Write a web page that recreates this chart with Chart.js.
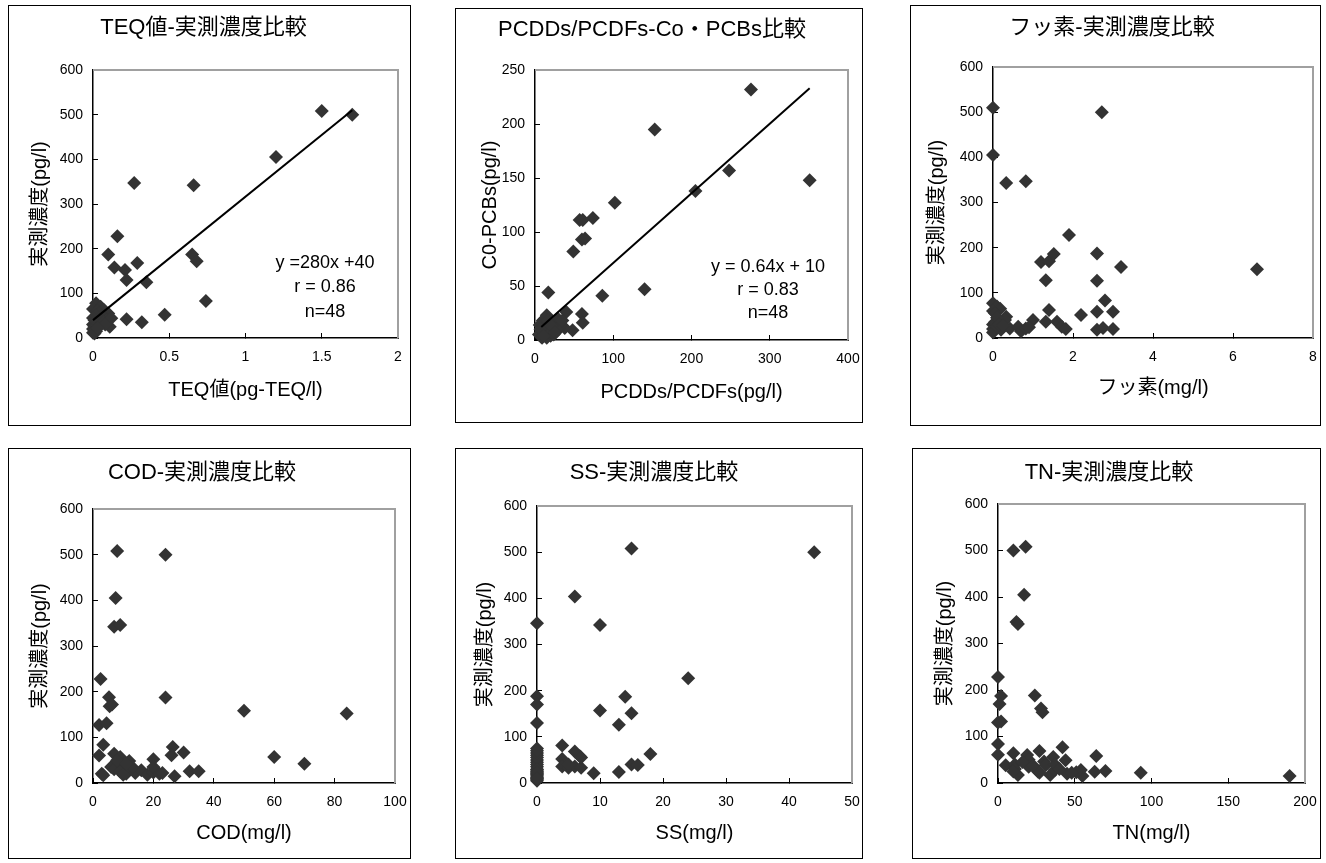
<!DOCTYPE html>
<html>
<head>
<meta charset="utf-8">
<script src="https://cdn.jsdelivr.net/npm/chart.js@4.4.0/dist/chart.umd.min.js"></script>
<style>
  body { margin: 0; background: #fff; width: 1326px; height: 863px; position: relative; overflow: hidden; }
  .panel { position: absolute; border: 1px solid #000; box-sizing: border-box; background: #fff; }
  .panel canvas { position: absolute; left: 0; top: 0; }
</style>
</head>
<body>
<script>
// TEQ vs measured concentration
const teqX = [1.5, 1.7, 1.2, 0.27, 0.66, 0.16, 0.1, 0.65, 0.68, 0.29, 0.14, 0.21, 0.22, 0.35, 0.74, 0.47, 0.22, 0.32, 0.11,
  0.02, 0, 0.05, 0.03, 0.07, 0.1, 0.08, 0.06, 0.04, 0.01, 0.02, 0, 0.01, 0, 0.02, 0, 0.01, 0.03, 0.05, 0.06, 0.09, 0.04, 0.02, 0, 0.07, 0.12, 0.08, 0.01, 0.03];
const teqY = [508, 500, 405, 347, 342, 228, 187, 187, 172, 168, 158, 152, 130, 125, 83, 52, 42, 35, 25,
  78, 65, 70, 60, 63, 55, 45, 50, 48, 40, 35, 30, 25, 20, 15, 12, 18, 28, 38, 42, 40, 55, 50, 45, 35, 44, 30, 10, 22];
const teqTrendX = [0, 1.7];
const teqTrendY = [40, 510];

// PCDDs/PCDFs vs Co-PCBs
const pcddX = [276, 153, 248, 205, 351, 102, 74, 57, 61, 60, 64, 49, 86, 140, 17, 60, 61, 48, 40, 15, 29, 38,
  5, 8, 10, 12, 14, 16, 18, 20, 22, 25, 28, 10, 6, 9, 13, 15, 19, 24, 30, 33, 7, 11, 17, 21, 26, 35];
const pcbY = [232, 195, 157, 138, 148, 127, 113, 111, 111, 93, 94, 82, 41, 47, 44, 24, 16, 9, 26, 23, 20, 11,
  5, 3, 8, 12, 6, 10, 15, 4, 8, 12, 16, 18, 14, 2, 20, 2, 7, 5, 10, 14, 10, 4, 18, 13, 7, 18];
const pcbTrendX = [8, 351];
const pcbTrendY = [12, 233];

// fluorine
const fluorX = [0, 0, 0.33, 0.82, 2.72, 1.9, 1.2, 1.4, 1.52, 1.32, 2.6, 3.2, 6.6, 2.6, 2.8, 2.6, 3.0, 2.2, 1.4, 1.32, 1.0, 1.6, 1.72, 1.82, 2.6, 2.75, 3.0,
  0, 0.1, 0.18, 0, 0.05, 0.33, 0.3, 0.2, 0.42, 0.63, 0.7, 0.82, 0, 0, 0, 0.05, 0.1, 0.1, 0.15, 0.9, 0.25];
const fluorY = [510, 405, 343, 347, 500, 228, 168, 170, 186, 128, 187, 157, 152, 127, 83, 58, 58, 51, 62, 36, 40, 36, 25, 20, 18, 22, 20,
  77, 70, 65, 60, 55, 47, 40, 18, 21, 25, 15, 21, 30, 20, 12, 35, 25, 45, 30, 24, 28];

// COD
const codX = [8, 24, 7.5, 7, 9, 2.5, 5.3, 5.5, 6.3, 24, 50, 84, 2, 4.5, 3.4, 2, 60, 70, 26.4, 26, 30, 20, 32, 35, 27, 2.9, 3.4, 12,
  7, 9, 8, 10, 6, 7, 9, 11, 12, 14, 16, 18, 20, 20, 22, 23, 13, 10, 8, 11];
const codY = [508, 500, 405, 342, 346, 228, 188, 168, 172, 187, 158, 152, 127, 131, 84, 60, 57, 42, 79, 61, 67, 52, 26, 26, 15, 20, 17, 48,
  64, 57, 45, 40, 35, 30, 25, 20, 30, 22, 28, 18, 23, 35, 20, 22, 35, 18, 50, 42];

// SS
const ssX = [15, 44, 6, 10, 0, 24, 0, 0, 14, 10, 15, 13, 0, 4, 6, 6.8, 4, 18, 15, 16, 9, 13, 4, 5, 6, 7,
  0, 0, 0, 0, 0, 0, 0, 0, 0, 0, 0, 0, 0, 0, 0, 0, 0, 0, 0, 5, 7, 0];
const ssY = [508, 500, 404, 342, 346, 227, 188, 170, 187, 157, 151, 126, 130, 81, 68, 58, 52, 63, 40, 39, 21, 24, 36, 33, 36, 33,
  75, 60, 50, 45, 35, 25, 20, 15, 12, 5, 8, 28, 40, 55, 65, 18, 30, 22, 10, 40, 55, 70];

// TN
const tnX = [18, 10, 17, 12, 13, 0, 2, 1, 24, 28, 29, 0, 2, 0, 0, 10, 5, 19, 27, 42, 64, 93, 190, 70, 63, 55, 54, 44, 36, 30, 20,
  11, 11, 13, 20, 26, 34, 37, 45, 51, 23, 31, 37, 27, 48, 10, 40, 16];
const tnY = [508, 500, 405, 346, 342, 228, 187, 170, 188, 160, 152, 130, 132, 84, 61, 64, 38, 60, 69, 77, 58, 22, 15, 26, 24, 15, 28, 49, 56, 46, 50,
  40, 30, 17, 35, 25, 17, 28, 20, 23, 37, 38, 40, 22, 22, 25, 30, 45];

// tick labels
const yTicks600 = [0, 100, 200, 300, 400, 500, 600];
const yTicks250 = [0, 50, 100, 150, 200, 250];
const xTicksTeq = [0, 0.5, 1, 1.5, 2];
const xTicksPcdd = [0, 100, 200, 300, 400];
const xTicksFluor = [0, 2, 4, 6, 8];
const xTicksCod = [0, 20, 40, 60, 80, 100];
const xTicksSs = [0, 10, 20, 30, 40, 50];
const xTicksTn = [0, 50, 100, 150, 200];

const FONT = "'Liberation Sans', 'Noto Sans CJK JP', sans-serif";
Chart.defaults.font.family = FONT;
Chart.defaults.color = '#000';

function toPoints(xs, ys) {
  return xs.map((x, i) => ({ x: x, y: ys[i] }));
}

// grey frame on top / right of the plot area, like Excel
const framePlugin = {
  id: 'frame',
  beforeDatasetsDraw(chart) {
    const { ctx, chartArea: a } = chart;
    ctx.save();
    ctx.strokeStyle = '#a0a0a0';
    ctx.lineWidth = 2;
    ctx.beginPath();
    ctx.moveTo(a.left, a.top);
    ctx.lineTo(a.right, a.top);
    ctx.lineTo(a.right, a.bottom);
    ctx.stroke();
    ctx.restore();
  }
};

function notePlugin(lines, x, ys) {
  return {
    id: 'note',
    afterDatasetsDraw(chart) {
      const ctx = chart.ctx;
      ctx.save();
      ctx.font = '18px ' + FONT;
      ctx.fillStyle = '#000';
      ctx.textAlign = 'center';
      ctx.textBaseline = 'middle';
      lines.forEach((t, i) => ctx.fillText(t, x, ys[i]));
      ctx.restore();
    }
  };
}

function makePanel(p) {
  const [bl, bt, br, bb] = p.box;
  const div = document.createElement('div');
  div.className = 'panel';
  div.style.left = bl + 'px';
  div.style.top = bt + 'px';
  div.style.width = (br - bl + 1) + 'px';
  div.style.height = (bb - bt + 1) + 'px';
  const canvas = document.createElement('canvas');
  const W = br - bl - 1, H = bb - bt - 1;
  canvas.width = W;
  canvas.height = H;
  div.appendChild(canvas);
  document.body.appendChild(div);

  const cx0 = bl + 1, cy0 = bt + 1;
  const [pl, pt, pr, pb] = p.plot;
  const yw = pl - cx0, padR = cx0 + W - pr, th = pt - cy0, xh = cy0 + H - pb;
  const tSize = 22, tLine = tSize * 1.2;
  const tTop = p.titleY - cy0 - tLine / 2;
  const aSize = 20, aHalf = aSize * 1.2 / 2;

  const datasets = [];
  if (p.trend) {
    datasets.push({
      type: 'line',
      data: toPoints(p.trend[0], p.trend[1]),
      borderColor: '#000',
      borderWidth: 2,
      pointRadius: 0,
      fill: false,
      clip: false
    });
  }
  datasets.push({
    data: toPoints(p.xs, p.ys),
    pointStyle: 'rectRot',
    pointRadius: 7,
    pointBackgroundColor: '#333',
    pointBorderWidth: 0,
    clip: false
  });

  const plugins = [framePlugin];
  if (p.note) {
    plugins.push(notePlugin(p.note.lines, p.note.x - cx0, p.note.ys.map(v => v - cy0)));
  }

  new Chart(canvas.getContext('2d'), {
    type: 'scatter',
    data: { datasets: datasets },
    plugins: plugins,
    options: {
      responsive: false,
      animation: false,
      events: [],
      layout: { padding: { top: 0, left: 0, right: padR, bottom: 0 } },
      plugins: {
        legend: { display: false },
        tooltip: { enabled: false },
        title: {
          display: true,
          text: p.title,
          font: { size: tSize, weight: 'normal', lineHeight: 1.2 },
          color: '#000',
          padding: { top: tTop, bottom: th - tTop - tLine }
        }
      },
      scales: {
        x: {
          type: 'linear',
          min: p.xTicks[0],
          max: p.xTicks[p.xTicks.length - 1],
          afterBuildTicks: s => { s.ticks = p.xTicks.map(v => ({ value: v })); },
          afterFit: s => { s.height = xh; s.paddingLeft = 0; s.paddingRight = 0; },
          ticks: { padding: 16, font: { size: 14 }, autoSkip: false, maxRotation: 0, callback: v => String(v) },
          grid: { display: true, drawOnChartArea: false, drawTicks: true, tickLength: -5, color: '#000', lineWidth: 1 },
          border: { display: true, color: '#000', width: 1.5 },
          title: {
            display: true,
            text: p.xTitle,
            font: { size: aSize, lineHeight: 1.2 },
            padding: { top: 0, bottom: (cy0 + H - p.xTitleY) - aHalf }
          }
        },
        y: {
          type: 'linear',
          min: p.yTicks[0],
          max: p.yTicks[p.yTicks.length - 1],
          afterBuildTicks: s => { s.ticks = p.yTicks.map(v => ({ value: v })); },
          afterFit: s => { s.width = yw; s.paddingTop = 0; s.paddingBottom = 0; },
          ticks: { padding: 15, font: { size: 14 }, autoSkip: false, callback: v => String(v) },
          grid: { display: true, drawOnChartArea: false, drawTicks: true, tickLength: -5, color: '#000', lineWidth: 1 },
          border: { display: true, color: '#000', width: 1.5 },
          title: {
            display: true,
            text: p.yTitle,
            font: { size: aSize, lineHeight: 1.2 },
            padding: { top: (p.yTitleX - cx0) - aHalf, bottom: 0 }
          }
        }
      }
    }
  });
}

const Y_TITLE = '実測濃度(pg/l)';

makePanel({
  box: [8, 5, 410, 425], plot: [93, 70, 398, 338], titleY: 28, xTitleY: 390, yTitleX: 40,
  title: 'TEQ値-実測濃度比較', xTitle: 'TEQ値(pg-TEQ/l)', yTitle: Y_TITLE,
  xs: teqX, ys: teqY, xTicks: xTicksTeq, yTicks: yTicks600,
  trend: [teqTrendX, teqTrendY],
  note: { lines: ['y =280x +40', 'r = 0.86', 'n=48'], x: 325, ys: [263, 287, 312] }
});

makePanel({
  box: [455, 8, 862, 422], plot: [535, 70, 848, 340], titleY: 30, xTitleY: 392, yTitleX: 490,
  title: 'PCDDs/PCDFs-Co・PCBs比較', xTitle: 'PCDDs/PCDFs(pg/l)', yTitle: 'C0-PCBs(pg/l)',
  xs: pcddX, ys: pcbY, xTicks: xTicksPcdd, yTicks: yTicks250,
  trend: [pcbTrendX, pcbTrendY],
  note: { lines: ['y = 0.64x + 10', 'r = 0.83', 'n=48'], x: 768, ys: [267, 290, 313] }
});

makePanel({
  box: [910, 5, 1320, 425], plot: [993, 67, 1313, 338], titleY: 28, xTitleY: 388, yTitleX: 937,
  title: 'フッ素-実測濃度比較', xTitle: 'フッ素(mg/l)', yTitle: Y_TITLE,
  xs: fluorX, ys: fluorY, xTicks: xTicksFluor, yTicks: yTicks600
});

makePanel({
  box: [8, 448, 410, 858], plot: [93, 509, 395, 783], titleY: 473, xTitleY: 833, yTitleX: 40,
  title: 'COD-実測濃度比較', xTitle: 'COD(mg/l)', yTitle: Y_TITLE,
  xs: codX, ys: codY, xTicks: xTicksCod, yTicks: yTicks600
});

makePanel({
  box: [455, 448, 862, 858], plot: [537, 506, 852, 783], titleY: 473, xTitleY: 833, yTitleX: 485,
  title: 'SS-実測濃度比較', xTitle: 'SS(mg/l)', yTitle: Y_TITLE,
  xs: ssX, ys: ssY, xTicks: xTicksSs, yTicks: yTicks600
});

makePanel({
  box: [912, 448, 1320, 858], plot: [998, 504, 1305, 783], titleY: 473, xTitleY: 833, yTitleX: 945,
  title: 'TN-実測濃度比較', xTitle: 'TN(mg/l)', yTitle: Y_TITLE,
  xs: tnX, ys: tnY, xTicks: xTicksTn, yTicks: yTicks600
});
</script>
</body>
</html>
